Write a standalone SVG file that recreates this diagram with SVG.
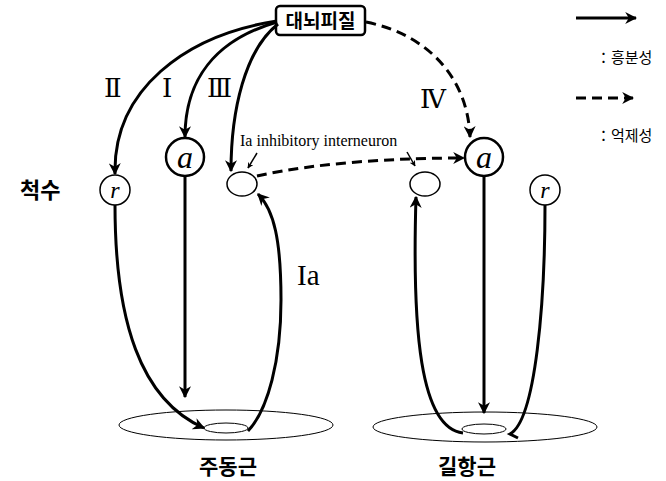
<svg xmlns="http://www.w3.org/2000/svg" width="666" height="481" viewBox="0 0 666 481">
<defs>
<marker id="ah" viewBox="0 0 10 10" refX="9" refY="5" markerWidth="4" markerHeight="4" orient="auto" markerUnits="strokeWidth">
<path d="M0,0 L10,5 L0,10 L3,5 Z" fill="#000"/>
</marker>
</defs>
<style>
.ln{fill:none;stroke:#000;stroke-width:3}
.ex{fill:none;stroke:#000;stroke-width:3;marker-end:url(#ah)}
.inh{fill:none;stroke:#000;stroke-width:3;stroke-dasharray:10 6;marker-end:url(#ah)}
.ptr{fill:none;stroke:#000;stroke-width:1.5;marker-end:url(#ah)}
.thin{fill:none;stroke:#000;stroke-width:1}
.ko{font-family:"Noto Sans CJK KR","Liberation Sans",sans-serif;font-weight:bold;fill:#000}
.kos{font-family:"Noto Sans CJK KR","Liberation Serif",serif;fill:#000}
.rn{font-family:"Liberation Serif","DejaVu Serif","Noto Sans CJK KR",serif;fill:#000}
.it{font-family:"Liberation Serif",serif;font-style:italic;fill:#000}
</style>
<rect width="666" height="481" fill="#fff"/>

<g id="cortex">
<rect x="276" y="6" width="89" height="29" rx="4" fill="#fff" stroke="#000" stroke-width="2.5"/>
<text class="ko" x="320.5" y="27.5" font-size="19" text-anchor="middle">대뇌피질</text>
</g>

<g id="legend">
<line x1="576" y1="18" x2="636" y2="18" class="ex"/>
<text class="kos" x="596" y="63" font-size="15">：흥분성</text>
<line x1="576" y1="98" x2="633" y2="98" class="inh" stroke-dasharray="11 5"/>
<text class="kos" x="596" y="141" font-size="15">：억제성</text>
</g>

<g id="labels">
<text class="rn" x="104" y="97" font-size="26">Ⅱ</text>
<text class="rn" x="162" y="97" font-size="26">Ⅰ</text>
<text class="rn" x="207" y="97" font-size="26">Ⅲ</text>
<text class="rn" x="420" y="108" font-size="26">Ⅳ</text>
<text class="ko" x="20" y="198" font-size="22">척수</text>
<text class="rn" x="240" y="146" font-size="16">Ia inhibitory interneuron</text>
<text class="rn" x="297" y="285" font-size="29">Ia</text>
</g>

<g id="gamma-left">
<circle cx="115" cy="190" r="15" fill="#fff" stroke="#000" stroke-width="1.5"/>
<text class="it" x="115" y="198" font-size="24" text-anchor="middle">r</text>
</g>
<g id="alpha-left">
<ellipse cx="185" cy="157" rx="19" ry="19" fill="#fff" stroke="#000" stroke-width="2.5"/>
<text class="it" x="185" y="168" font-size="32" text-anchor="middle">a</text>
</g>
<g id="inter-left">
<ellipse cx="242" cy="184" rx="15" ry="12" fill="#fff" stroke="#000" stroke-width="1.5"/>
</g>
<g id="inter-right">
<ellipse cx="425" cy="184" rx="15" ry="12" fill="#fff" stroke="#000" stroke-width="1.5"/>
</g>
<g id="alpha-right">
<ellipse cx="484" cy="157" rx="19" ry="19" fill="#fff" stroke="#000" stroke-width="2.5"/>
<text class="it" x="484" y="168" font-size="32" text-anchor="middle">a</text>
</g>
<g id="gamma-right">
<circle cx="545" cy="190" r="15" fill="#fff" stroke="#000" stroke-width="1.5"/>
<text class="it" x="545" y="198" font-size="24" text-anchor="middle">r</text>
</g>

<g id="muscle-left">
<ellipse cx="226" cy="425" rx="107" ry="15" class="thin"/>
<ellipse cx="226" cy="428" rx="22" ry="5" class="thin"/>
<text class="ko" x="228" y="474" font-size="21" text-anchor="middle">주동근</text>
</g>
<g id="muscle-right">
<ellipse cx="485" cy="427" rx="112" ry="15" class="thin"/>
<ellipse cx="484" cy="429" rx="22" ry="5" class="thin"/>
<text class="ko" x="467" y="474" font-size="21" text-anchor="middle">길항근</text>
</g>

<g id="connectors">
<path class="ex" d="M277,21 C185,35 113,90 115,174"/>
<path class="ex" d="M277,22 C215,40 185,80 185,137"/>
<path class="ex" d="M278,24 C245,50 231,110 231,171"/>
<path class="inh" d="M366,22 C430,35 468,80 470,137"/>
<path class="inh" d="M257,176 C320,162 400,158 464,158"/>
<path class="ptr" d="M257,153 L248,168"/>
<path class="ptr" d="M407,152 L415,166"/>
<path class="ex" d="M185,176 L185,397"/>
<path class="ex" d="M115,205 C115,320 140,400 204,428"/>
<path class="ex" d="M248,431 C268,410 281,360 281,300 C281,240 274,210 258,194"/>
<path class="ex" d="M484,176 L484,413"/>
<path class="ex" d="M463,433 C420,428 412,330 416,197"/>
<path class="ln" d="M545,205 C545,300 536,420 510,434 L518,438"/>
</g>
</svg>
